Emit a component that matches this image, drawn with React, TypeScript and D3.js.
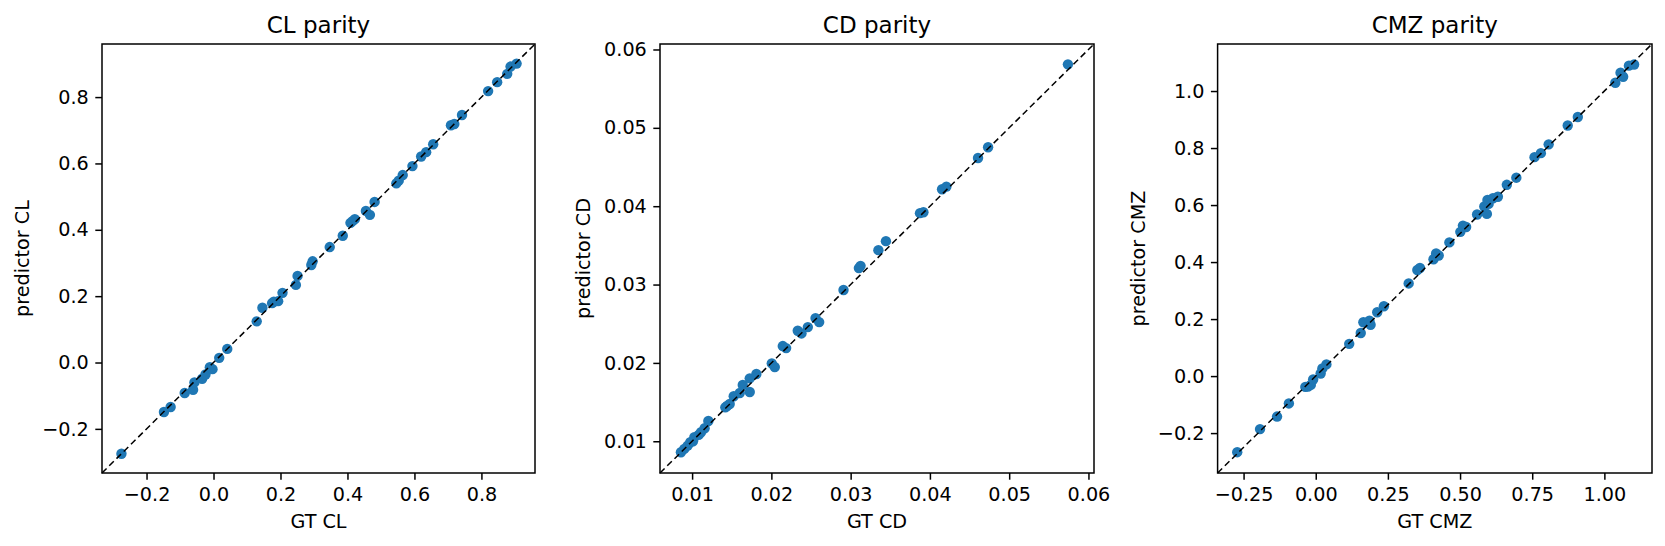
import * as d3 from "d3";
import { useEffect, useRef } from "react";

const clGt = [
  -0.275, -0.148, -0.128, -0.086, -0.061, -0.057, -0.034, -0.024, -0.011, -0.003, 0.017, 0.041,
  0.129, 0.146, 0.175, 0.18, 0.193, 0.206, 0.246, 0.251, 0.292, 0.296, 0.347, 0.386, 0.409, 0.415,
  0.422, 0.455, 0.467, 0.481, 0.546, 0.553, 0.565, 0.594, 0.62, 0.635, 0.656, 0.709, 0.719, 0.742,
  0.82, 0.847, 0.877, 0.887, 0.905,
];
const clPred = [
  -0.275, -0.149, -0.134, -0.092, -0.082, -0.06, -0.049, -0.036, -0.014, -0.02, 0.014, 0.041,
  0.124, 0.165, 0.179, 0.183, 0.185, 0.21, 0.234, 0.261, 0.294, 0.305, 0.348, 0.382, 0.421, 0.426,
  0.432, 0.457, 0.445, 0.484, 0.54, 0.548, 0.565, 0.592, 0.621, 0.634, 0.658, 0.715, 0.719, 0.746,
  0.818, 0.845, 0.87, 0.892, 0.901,
];

const cdGt = [
  0.00859, 0.00901, 0.00944, 0.00977, 0.01011, 0.01028, 0.01083, 0.01112, 0.01158, 0.01205,
  0.01419, 0.0144, 0.01474, 0.01525, 0.01601, 0.01639, 0.01727, 0.01727, 0.01811, 0.02005,
  0.02043, 0.02144, 0.02186, 0.02333, 0.0238, 0.0246, 0.02557, 0.02603, 0.0291, 0.03104, 0.03125,
  0.0335, 0.03445, 0.03875, 0.03918, 0.04153, 0.04208, 0.04607, 0.04734, 0.05741,
];
const cdPred = [
  0.0086, 0.00902, 0.00945, 0.00987, 0.01, 0.01051, 0.01081, 0.01115, 0.01166, 0.01259, 0.01433,
  0.0145, 0.01476, 0.01574, 0.01616, 0.01718, 0.01629, 0.01803, 0.01858, 0.01994, 0.01947,
  0.02215, 0.02189, 0.0241, 0.02376, 0.02457, 0.02572, 0.02521, 0.0293, 0.0321, 0.03239, 0.03439,
  0.03554, 0.03911, 0.03923, 0.04216, 0.0425, 0.04615, 0.04752, 0.0581,
];

const cmzGt = [
  -0.272, -0.193, -0.134, -0.093, -0.036, -0.027, -0.017, -0.009, 0.017, 0.023, 0.037, 0.116,
  0.156, 0.165, 0.186, 0.19, 0.213, 0.236, 0.322, 0.352, 0.361, 0.408, 0.417, 0.426, 0.463, 0.501,
  0.51, 0.521, 0.559, 0.584, 0.593, 0.599, 0.595, 0.614, 0.631, 0.662, 0.695, 0.758, 0.78, 0.807,
  0.873, 0.908, 1.038, 1.056, 1.065, 1.085, 1.103,
];
const cmzPred = [
  -0.267, -0.186, -0.142, -0.096, -0.038, -0.037, -0.031, -0.012, 0.009, 0.027, 0.041, 0.113,
  0.151, 0.189, 0.194, 0.18, 0.224, 0.245, 0.325, 0.372, 0.379, 0.41, 0.43, 0.423, 0.469, 0.506,
  0.528, 0.523, 0.567, 0.595, 0.569, 0.604, 0.618, 0.624, 0.629, 0.671, 0.696, 0.768, 0.782, 0.813,
  0.879, 0.909, 1.029, 1.064, 1.05, 1.089, 1.093,
];

const clTicks = [-0.2, 0, 0.2, 0.4, 0.6, 0.8];
const cdTicks = [0.01, 0.02, 0.03, 0.04, 0.05, 0.06];
const cmzXTicks = [-0.25, 0, 0.25, 0.5, 0.75, 1];
const cmzYTicks = [-0.2, 0, 0.2, 0.4, 0.6, 0.8, 1];

const panels = [
  {
    name: "CL",
    gt: clGt,
    pred: clPred,
    left: 102,
    right: 535,
    labelX: 29,
    lims: [-0.333, 0.96],
    xTicks: clTicks,
    yTicks: clTicks,
    xFormat: ".1f",
    yFormat: ".1f",
  },
  {
    name: "CD",
    gt: cdGt,
    pred: cdPred,
    left: 660,
    right: 1094,
    labelX: 590,
    lims: [0.00595, 0.0607],
    xTicks: cdTicks,
    yTicks: cdTicks,
    xFormat: ".2f",
    yFormat: ".2f",
  },
  {
    name: "CMZ",
    gt: cmzGt,
    pred: cmzPred,
    left: 1217.6,
    right: 1652,
    labelX: 1145,
    lims: [-0.34, 1.165],
    xTicks: cmzXTicks,
    yTicks: cmzYTicks,
    xFormat: ".2f",
    yFormat: ".1f",
  },
];

const top = 44;
const bottom = 473;
const font = "'DejaVu Sans', sans-serif";

export default function App() {
  const ref = useRef<SVGSVGElement | null>(null);

  useEffect(() => {
    if (!ref.current) return;
    const svg = d3.select(ref.current);
    svg.selectAll("*").remove();

    panels.forEach((p) => {
      const x = d3.scaleLinear().domain(p.lims).range([p.left, p.right]);
      const y = d3.scaleLinear().domain(p.lims).range([bottom, top]);
      const g = svg.append("g");

      // points first, the dashed diagonal sits on top of them
      g.selectAll("circle")
        .data(p.gt)
        .enter()
        .append("circle")
        .attr("cx", (d) => x(d))
        .attr("cy", (_, i) => y(p.pred[i]))
        .attr("r", 5.2)
        .attr("fill", "#1f77b4");

      const line = d3
        .line<number>()
        .x((d) => x(d))
        .y((d) => y(d));
      g.append("path")
        .attr("d", line(p.lims))
        .attr("fill", "none")
        .attr("stroke", "#000")
        .attr("stroke-width", 1.5)
        .attr("stroke-dasharray", "6.4 3.8");

      const minus = (s: string) => s.replace("-", "\u2212");
      const xAxis = d3
        .axisBottom(x)
        .tickValues(p.xTicks)
        .tickFormat((d) => minus(d3.format(p.xFormat)(d as number)))
        .tickSize(6.7)
        .tickPadding(7.7);
      const yAxis = d3
        .axisLeft(y)
        .tickValues(p.yTicks)
        .tickFormat((d) => minus(d3.format(p.yFormat)(d as number)))
        .tickSize(6.7)
        .tickPadding(6.5);

      const gx = g.append("g").attr("transform", `translate(0,${bottom})`).call(xAxis);
      const gy = g.append("g").attr("transform", `translate(${p.left},0)`).call(yAxis);
      [gx, gy].forEach((a) => {
        a.select(".domain").remove();
        a.selectAll("line").attr("stroke", "#000").attr("stroke-width", 1.5);
        a.selectAll("text").attr("fill", "#000").attr("font-size", 19.2).attr("font-family", font);
      });

      g.append("rect")
        .attr("x", p.left)
        .attr("y", top)
        .attr("width", p.right - p.left)
        .attr("height", bottom - top)
        .attr("fill", "none")
        .attr("stroke", "#000")
        .attr("stroke-width", 1.5);

      const cx = (p.left + p.right) / 2;
      g.append("text")
        .attr("x", cx)
        .attr("y", 33)
        .attr("text-anchor", "middle")
        .attr("font-size", 23)
        .attr("font-family", font)
        .text(`${p.name} parity`);
      g.append("text")
        .attr("x", cx)
        .attr("y", 528)
        .attr("text-anchor", "middle")
        .attr("font-size", 19.2)
        .attr("font-family", font)
        .text(`GT ${p.name}`);
      g.append("text")
        .attr("transform", `translate(${p.labelX},${(top + bottom) / 2}) rotate(-90)`)
        .attr("text-anchor", "middle")
        .attr("font-size", 19.2)
        .attr("font-family", font)
        .text(`predictor ${p.name}`);
    });
  }, []);

  return (
    <svg
      ref={ref}
      width={1665}
      height={546}
      style={{ position: "absolute", left: 0, top: 0, background: "#fff" }}
    ></svg>
  );
}
